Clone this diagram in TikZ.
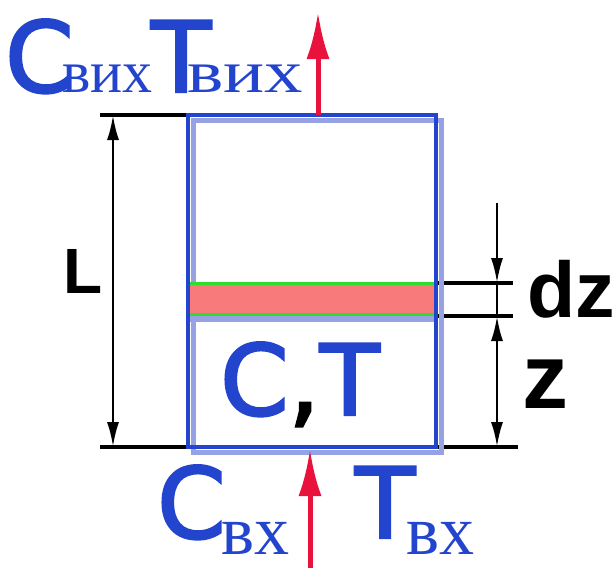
\documentclass[tikz,border=0pt]{standalone}
\usepackage{fontspec}
\setmainfont{DejaVu Sans}
\newfontfamily\heavy[FakeBold=2.5]{DejaVu Sans}
\newfontfamily\subf{Liberation Serif}
\newfontfamily\blk{Liberation Sans}[BoldFont={Liberation Sans Bold}]
\usetikzlibrary{arrows.meta}
\definecolor{tblue}{RGB}{35,68,205}
\definecolor{tshadow}{RGB}{150,162,228}
\definecolor{tred}{RGB}{232,18,60}
\definecolor{tgreen}{RGB}{45,222,45}
\definecolor{tsalmon}{RGB}{248,122,122}
\tikzset{
  lbl/.style={inner sep=0pt, anchor=base west},
  big/.style={lbl, text=tblue, font=\heavy\fontsize{98}{98}\selectfont},
  subtop/.style={lbl, text=tblue, font=\subf\fontsize{60}{60}\selectfont},
  subbot/.style={lbl, text=tblue, font=\subf\fontsize{70}{70}\selectfont},
  extline/.style={black, line width=4pt},
  dimline/.style={black, line width=2.5pt, >={Latex[length=25pt,width=12pt]}},
  flow/.style={tred, line width=5pt, -{Latex[length=47pt,width=23pt]}},
}
\begin{document}
\begin{tikzpicture}[x=1pt,y=-1pt]
\useasboundingbox[fill=white] (0,0) rectangle (616,568);
% key coordinates
\coordinate (tl) at (188,115);
\coordinate (br) at (436,447);
\coordinate (Ltop) at (100,115);
\coordinate (Lbot) at (100,447);
\coordinate (Rbot) at (518,447);
\coordinate (g1) at (436,283);
\coordinate (g2) at (436,316);
\coordinate (g1e) at (513,283);
\coordinate (g2e) at (513,316);
\coordinate (dzstart) at (497,203);
\coordinate (dz1) at (497,283);
\coordinate (dz2) at (497,316);
\coordinate (zb) at (497,447);
\coordinate (La) at (113,115);
\coordinate (Lb) at (113,447);
\coordinate (outbase) at (318,115);
\coordinate (outtip) at (318,12);
\coordinate (inbase) at (310,568);
\coordinate (intip) at (310,449);

% extension lines
\draw[extline] (Ltop) -- (tl);
\draw[extline] (Lbot) -- (Rbot);
\draw[extline] (g1) -- (g1e);
\draw[extline] (g2) -- (g2e);

% box shadow
\draw[tshadow, line width=5pt] (193,120) rectangle (441,452);
% strip
\fill[tshadow] (190,316) rectangle (434,322);
\fill[tsalmon] (190,285) rectangle (434,313);
\draw[tgreen, line width=3.5pt] (190,283.5) -- (434,283.5);
\draw[tgreen, line width=3.5pt] (190,314.5) -- (434,314.5);
% main box
\draw[tblue, line width=4pt] (tl) rectangle (br);

% dimensions
\draw[dimline, <->] (La) -- (Lb);
\draw[dimline, ->] (dzstart) -- (dz1);
\draw[black, line width=1.5pt] (dz1) -- (dz2);
\draw[dimline, <->] (dz2) -- (zb);

% flow arrows
\draw[flow] (outbase) -- (outtip);
\draw[flow] (inbase) -- (intip);

% labels
\node[lbl, font=\blk\bfseries\fontsize{64}{64}\selectfont] (L) at (63,293) {L};
\node[lbl, font=\blk\bfseries\fontsize{79}{79}\selectfont] (dz) at (527,317) {dz};
\node[lbl, font=\blk\bfseries\fontsize{92}{92}\selectfont] (z) at (522,408) {z};

\node[big] (CT) at (220,415) {C\textcolor{black}{,}T};

\node[big] (Cout) at (5,92) {C};
\node[subtop] (Cout_s) at (62,92) {вих};
\node[big] (Tout) at (151,92) {T};
\node[subtop] (Tout_s) at (187,92) {\scalebox{1.28}[1]{вих}};

\node[big] (Cin) at (157,538) {C};
\node[subbot] (Cin_s) at (221,554) {вх};
\node[big] (Tin) at (355,538) {T};
\node[subbot] (Tin_s) at (406,554) {вх};
\end{tikzpicture}
\end{document}
